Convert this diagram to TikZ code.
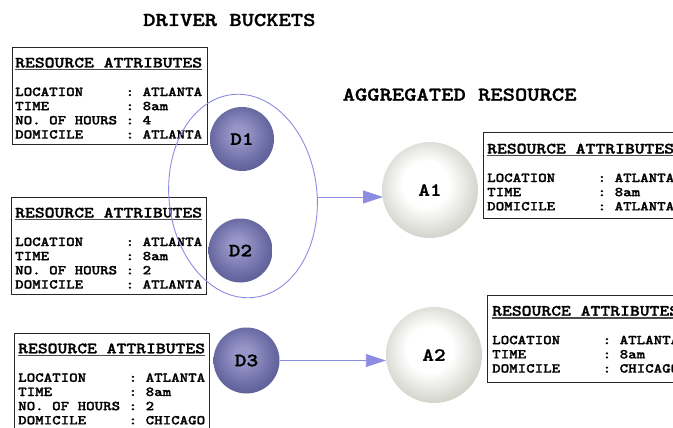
\documentclass[tikz,border=0pt]{standalone}
\usepackage{fontspec}
\usetikzlibrary{arrows.meta,shapes.geometric}
\newfontfamily\cour{lmmonolt10-bold}[Extension=.otf, FakeStretch=1.19, FakeBold=1.4]
\definecolor{dhi}{RGB}{150,150,200}
\definecolor{dmid}{RGB}{102,102,160}
\definecolor{dedge}{RGB}{36,36,66}
\definecolor{ahi}{RGB}{255,255,255}
\definecolor{amid}{RGB}{208,208,200}
\definecolor{aedge}{RGB}{100,100,82}
\definecolor{lineblue}{RGB}{140,140,226}
\pgfdeclareradialshading{dball}{\pgfpoint{-3bp}{5bp}}{color(0bp)=(dhi); color(6bp)=(dhi); color(24bp)=(dmid); color(38bp)=(dmid!70!dedge); color(46bp)=(dedge); color(50bp)=(dedge)}
\pgfdeclareradialshading{aball}{\pgfpoint{-3bp}{4bp}}{color(0bp)=(ahi); color(12bp)=(ahi); color(28bp)=(amid); color(40bp)=(amid!70!aedge); color(47bp)=(aedge); color(50bp)=(aedge)}
\newcommand\ultitle[1]{\setbox0\hbox{#1}\rlap{\color{black!70}\rule[-2.8pt]{\wd0}{1.3pt}}\box0}
\newcommand\attrrow[2]{\makebox[7.5em][l]{#1}\hspace{0.625em}:\hspace{0.625em}#2}
\newcommand\attrhead{{\fontsize{15.75}{14.2}\selectfont\ultitle{RESOURCE ATTRIBUTES}}\\[14.3pt]}
\tikzset{
  dsph/.style={circle, inner sep=0pt, minimum size=64pt, shading=dball, text=black,
    font=\cour\fontsize{18.7}{20}\selectfont},
  asph/.style={circle, inner sep=0pt, minimum size=96pt, shading=aball, text=black,
    font=\cour\fontsize{18.7}{20}\selectfont},
  attrbox/.style={draw=black!85, line width=1.2pt, inner sep=0pt, anchor=north west, fill=white},
  attrtext/.style={anchor=base west, inner sep=0pt, text=black,
    font=\cour\fontsize{13.6}{14.2}\selectfont\frenchspacing},
  heading/.style={anchor=base west, inner sep=0pt, text=black,
    font=\cour\fontsize{19.7}{22}\selectfont},
  arrowline/.style={draw=lineblue, line width=0.9pt, -{Triangle[length=20pt,width=13pt]}},
  group/.style={ellipse, draw=lineblue, line width=0.9pt, inner sep=0pt,
    minimum width=148pt, minimum height=204pt},
}
\begin{document}
\begin{tikzpicture}[x=1pt, y=-1pt]
\useasboundingbox (0,0) rectangle (673,428);
\clip (0,0) rectangle (673,428);
\fill[white] (0,0) rectangle (673,428);

% headings
\node[heading] (hd) at (143,26) {DRIVER BUCKETS};
\node[heading] (ha) at (342.5,100.7) {AGGREGATED RESOURCE};

% driver attribute boxes
\node[attrbox, minimum width=195pt, minimum height=97pt] (B1) at (12,47) {};
\node[attrtext] (T1) at (15,67.5) {\begin{tabular}[t]{@{}l@{}}\attrhead
\attrrow{LOCATION}{ATLANTA}\\ \attrrow{TIME}{8am}\\ \attrrow{NO. OF HOURS}{4}\\ \attrrow{DOMICILE}{ATLANTA}\end{tabular}};

\node[attrbox, minimum width=195pt, minimum height=97pt] (B2) at (11,197) {};
\node[attrtext] (T2) at (15,217.5) {\begin{tabular}[t]{@{}l@{}}\attrhead
\attrrow{LOCATION}{ATLANTA}\\ \attrrow{TIME}{8am}\\ \attrrow{NO. OF HOURS}{2}\\ \attrrow{DOMICILE}{ATLANTA}\end{tabular}};

\node[attrbox, minimum width=195pt, minimum height=110pt] (B3) at (14,333) {};
\node[attrtext] (T3) at (18,353.3) {\begin{tabular}[t]{@{}l@{}}\attrhead
\attrrow{LOCATION}{ATLANTA}\\ \attrrow{TIME}{8am}\\ \attrrow{NO. OF HOURS}{2}\\ \attrrow{DOMICILE}{CHICAGO}\end{tabular}};

% aggregated attribute boxes
\node[attrbox, minimum width=220pt, minimum height=86pt] (B4) at (483,132) {};
\node[attrtext] (T4) at (487,153.5) {\begin{tabular}[t]{@{}l@{}}\attrhead
\attrrow{LOCATION}{ATLANTA}\\ \attrrow{TIME}{8am}\\ \attrrow{DOMICILE}{ATLANTA}\end{tabular}};

\node[attrbox, minimum width=220pt, minimum height=87pt] (B5) at (487,295) {};
\node[attrtext] (T5) at (492,315.7) {\begin{tabular}[t]{@{}l@{}}\attrhead
\attrrow{LOCATION}{ATLANTA}\\ \attrrow{TIME}{8am}\\ \attrrow{DOMICILE}{CHICAGO}\end{tabular}};

% grouping ellipse
\node[group, rotate=6] (G) at (243,196) {};

% spheres
\node[dsph] (D1) at (242,139) {D1};
\node[dsph] (D2) at (240.5,250.5) {D2};
\node[dsph, minimum size=66pt] (D3) at (246.5,360.5) {D3};
\node[asph] (A1) at (430,190) {A1};
\node[asph] (A2) at (434,355) {A2};

% connectors
\coordinate (a1in) at (383,197);
\draw[arrowline] (G.east |- a1in) -- (a1in);
\draw[arrowline] (D3.east) -- (D3.east -| A2.west);
\end{tikzpicture}
\end{document}
